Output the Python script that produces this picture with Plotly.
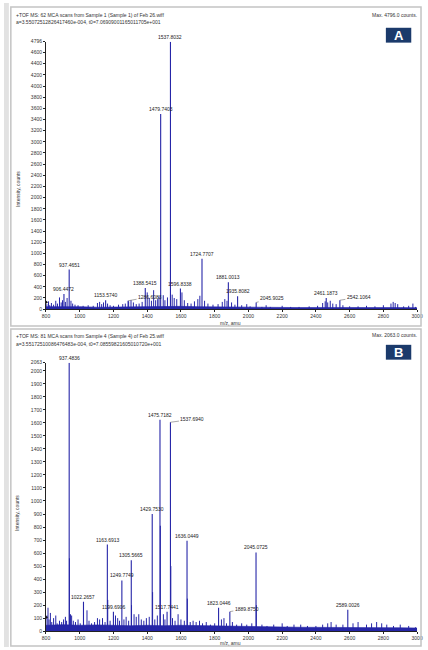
import plotly.graph_objects as go

W, H = 428, 650

# ---------------- Panel A data ----------------
A_peak_mz = [906.4472, 937.4651, 1153.5740, 1286.6083, 1388.5415, 1479.7403, 1537.8032,
             1596.8338, 1724.7707, 1881.0013, 1935.8082, 2045.9025, 2461.1873, 2542.1064]
A_peak_int = [270, 710, 160, 150, 380, 3500, 4796, 370, 905, 480, 230, 120, 200, 160]

A_minor_mz = [805, 815, 822, 832, 845, 858, 868, 880, 890, 898, 915, 925, 948, 958, 972, 990,
              1020, 1050, 1080, 1105, 1118, 1130, 1141, 1165, 1180, 1200, 1230, 1255, 1270,
              1290, 1304, 1318, 1335, 1352, 1370, 1400, 1412, 1425, 1438, 1450, 1462, 1470,
              1495, 1505, 1520, 1548, 1560, 1575, 1606, 1620, 1640, 1660, 1680, 1700, 1712,
              1740, 1760, 1790, 1820, 1845, 1860, 1873, 1900, 1920, 1960, 1990, 2010, 2080,
              2105, 2130, 2200, 2250, 2300, 2360, 2410, 2440, 2455, 2470, 2485, 2500, 2520,
              2560, 2600, 2650, 2700, 2750, 2800, 2845, 2858, 2870, 2885, 2920, 2950, 2975, 2990]
A_minor_int = [90, 140, 70, 110, 80, 150, 100, 210, 120, 160, 130, 200, 150, 100, 80, 70,
               60, 70, 60, 110, 130, 90, 120, 100, 70, 60, 80, 90, 100,
               140, 160, 120, 90, 100, 130, 300, 200, 150, 340, 160, 180, 230,
               250, 160, 210, 260, 200, 180, 300, 160, 110, 100, 140, 180, 240,
               150, 100, 80, 90, 130, 180, 150, 120, 80, 70, 90, 50, 40,
               70, 40, 60, 40, 40, 50, 60, 110, 140, 120, 150, 100, 90,
               70, 50, 50, 60, 50, 70, 100, 130, 110, 90, 50, 60, 100, 40]

A_base_mz = list(range(800, 3001, 100))
A_base_int = [45, 50, 45, 35, 40, 45, 40, 45, 50, 45, 40, 35, 30, 30, 30, 28, 30, 35, 30, 28, 32, 28, 25]

# ---------------- Panel B data ----------------
B_peak_mz = [937.4836, 1022.2657, 1163.6913, 1199.6906, 1249.7749, 1305.5665, 1429.7530,
             1475.7182, 1517.7441, 1537.6940, 1636.0449, 1823.0446, 1889.8750, 2045.0725, 2589.0026]
B_peak_int = [2063, 225, 665, 150, 390, 545, 900, 1625, 150, 1605, 695, 180, 150, 605, 165]

B_minor_mz = [806, 812, 818, 826, 834, 845, 858, 866, 880, 893, 904, 915, 922, 939, 945, 952,
              962, 975, 990, 1003, 1043, 1055, 1070, 1088, 1105, 1118, 1135, 1150, 1166, 1180,
              1212, 1225, 1236, 1262, 1275, 1290, 1307, 1322, 1335, 1350, 1365, 1380, 1395,
              1412, 1432, 1445, 1460, 1478, 1496, 1505, 1540, 1550, 1565, 1583, 1600, 1620,
              1638, 1655, 1672, 1690, 1710, 1728, 1750, 1775, 1800, 1840, 1855, 1870, 1905,
              1930, 1960, 1990, 2020, 2047, 2080, 2110, 2150, 2200, 2230, 2270, 2310, 2350,
              2400, 2440, 2470, 2490, 2520, 2560, 2620, 2650, 2700, 2730, 2760, 2790, 2820,
              2860, 2900, 2950, 2990]
B_minor_int = [120, 180, 90, 140, 70, 100, 120, 60, 80, 70, 90, 110, 80, 560, 130, 120,
               80, 70, 90, 60, 160, 80, 60, 70, 100, 90, 100, 70, 240, 80,
               120, 100, 80, 90, 110, 80, 200, 130, 110, 130, 90, 80, 100,
               110, 300, 90, 120, 810, 130, 90, 500, 100, 80, 130, 90, 80,
               250, 70, 80, 70, 80, 60, 70, 50, 60, 90, 100, 60, 70,
               50, 60, 50, 60, 200, 50, 40, 50, 60, 40, 50, 50, 40,
               40, 50, 60, 70, 50, 50, 60, 70, 50, 60, 70, 60, 50,
               40, 50, 40, 30]

B_base_mz = list(range(800, 3001, 100))
B_base_int = [45, 50, 45, 48, 45, 42, 45, 42, 45, 42, 40, 38, 36, 35, 32, 30, 30, 30, 28, 28, 28, 26, 24]

A_yticks = list(range(0, 4601, 200)) + [4796]
B_yticks = list(range(0, 2001, 100)) + [2063]
x_ticks = list(range(800, 3001, 200))

BLUE = "#2626a8"


def px(x):
    return x / W


def py(y):
    return 1 - y / H


def sticks(mz, inten):
    xs, ys = [], []
    for m, h in zip(mz, inten):
        xs += [m, m, None]
        ys += [0, h, None]
    return xs, ys


fig = go.Figure()

for (bmz, bint, mmz, mint, pmz, pint, xa, ya) in [
    (A_base_mz, A_base_int, A_minor_mz, A_minor_int, A_peak_mz, A_peak_int, "x", "y"),
    (B_base_mz, B_base_int, B_minor_mz, B_minor_int, B_peak_mz, B_peak_int, "x2", "y2"),
]:
    fig.add_trace(go.Scatter(x=bmz, y=bint, mode="lines", fill="tozeroy",
                             line=dict(color=BLUE, width=0.6), fillcolor=BLUE,
                             xaxis=xa, yaxis=ya, hoverinfo="skip"))
    xs, ys = sticks(mmz, mint)
    fig.add_trace(go.Scatter(x=xs, y=ys, mode="lines", line=dict(color=BLUE, width=1),
                             xaxis=xa, yaxis=ya, hoverinfo="skip"))
    xs, ys = sticks(pmz, pint)
    fig.add_trace(go.Scatter(x=xs, y=ys, mode="lines", line=dict(color=BLUE, width=1.1),
                             xaxis=xa, yaxis=ya, hoverinfo="skip"))

# threshold markers on y axis
fig.add_trace(go.Scatter(x=[800], y=[125], mode="markers", xaxis="x", yaxis="y",
                         marker=dict(symbol="triangle-right", size=4, color="#111"),
                         cliponaxis=False, hoverinfo="skip"))
fig.add_trace(go.Scatter(x=[800], y=[106], mode="markers", xaxis="x2", yaxis="y2",
                         marker=dict(symbol="triangle-right", size=4, color="#111"),
                         cliponaxis=False, hoverinfo="skip"))

TF = dict(family="Liberation Sans, Arial, sans-serif", size=5, color="#333")

axis_common = dict(showgrid=False, zeroline=False, showline=True, linecolor="#222",
                   linewidth=1, ticks="outside", ticklen=2, tickwidth=0.6, tickcolor="#222",
                   tickfont=TF, ticklabeloverflow="allow")

fig.update_layout(
    width=W, height=H, margin=dict(l=0, r=0, t=0, b=0),
    paper_bgcolor="white", plot_bgcolor="white", showlegend=False,
    xaxis=dict(domain=[px(43), px(423)], anchor="y", range=[800, 3000],
               tickvals=x_ticks, **axis_common),
    yaxis=dict(domain=[py(309), py(39)], anchor="x", range=[0, 4796],
               tickvals=A_yticks, ticktext=[str(v) for v in A_yticks], **axis_common),
    xaxis2=dict(domain=[px(43), px(423)], anchor="y2", range=[800, 3000],
                tickvals=x_ticks, **axis_common),
    yaxis2=dict(domain=[py(634), py(363)], anchor="x2", range=[0, 2063],
                tickvals=B_yticks, ticktext=[str(v) for v in B_yticks], **axis_common),
)

ann = []
LF = dict(family="Liberation Sans, Arial, sans-serif", size=5, color="#222")

A_shift = {1286.6083: (22, -4), 2045.9025: (16, -4), 2542.1064: (19, -3)}
B_shift = {1537.6940: (22, -3), 1889.8750: (17, -3)}

for mz, h, xa, ya, shifts in (
    [(m, h, "x", "y", A_shift) for m, h in zip(A_peak_mz, A_peak_int)] +
    [(m, h, "x2", "y2", B_shift) for m, h in zip(B_peak_mz, B_peak_int)]
):
    label = f"{mz:.4f}"
    if mz in shifts:
        dx, dy = shifts[mz]
        ann.append(dict(x=mz, y=h, xref=xa, yref=ya, text=label, showarrow=True,
                        arrowhead=0, arrowwidth=0.5, arrowcolor="#555", ax=dx, ay=dy,
                        font=LF, standoff=0))
    else:
        ann.append(dict(x=mz, y=h, xref=xa, yref=ya, text=label, showarrow=False,
                        yanchor="bottom", yshift=0, font=LF))

HF = dict(family="Liberation Sans, Arial, sans-serif", size=5, color="#333")
headers = [
    (10, 12, "+TOF MS: 62 MCA scans from Sample 1 (Sample 1) of Feb 26.wiff", "left"),
    (10, 19, "a=3.55072512826417460e-004, t0=7.06909001165011705e+001", "left"),
    (425, 12, "Max. 4796.0 counts.", "right"),
    (10, 336, "+TOF MS: 81 MCA scans from Sample 4 (Sample 4) of Feb 25.wiff", "left"),
    (10, 344, "a=3.55172510086476483e-004, t0=7.08559821605010720e+001", "left"),
    (425, 335, "Max. 2063.0 counts.", "right"),
    (232, 323, "m/z, amu", "center"),
    (232, 646, "m/z, amu", "center"),
]
for x, y, t, anc in headers:
    ann.append(dict(x=px(x), y=py(y), xref="paper", yref="paper", text=t, showarrow=False,
                    xanchor=anc, yanchor="middle", font=HF))

for x, y in [(15, 188), (14, 515)]:
    ann.append(dict(x=px(x), y=py(y), xref="paper", yref="paper", text="Intensity, counts",
                    showarrow=False, textangle=-90, xanchor="center", yanchor="middle",
                    font=dict(family="Liberation Sans, Arial, sans-serif", size=5, color="#333")))

for y0, letter in [(25, "A"), (345, "B")]:
    ann.append(dict(x=px(404), y=py(y0 + 7.5), xref="paper", yref="paper", text=f"<b>{letter}</b>",
                    showarrow=False, xanchor="center", yanchor="middle",
                    font=dict(family="Liberation Sans, Arial, sans-serif", size=13, color="white")))

fig.update_layout(annotations=ann)

shapes = []
for y0, y1 in [(4, 326), (329, 649)]:
    shapes.append(dict(type="rect", xref="paper", yref="paper", x0=px(7), x1=px(427),
                       y0=py(y1), y1=py(y0), line=dict(color="#c4c4c4", width=1.5)))
shapes.append(dict(type="rect", xref="paper", yref="paper", x0=0, x1=px(5), y0=0, y1=1,
                   line=dict(width=0), fillcolor="#e2e2e2"))
for y0 in [25, 345]:
    shapes.append(dict(type="rect", xref="paper", yref="paper", x0=px(391), x1=px(417),
                       y0=py(y0 + 15), y1=py(y0), line=dict(width=0), fillcolor="#1b3a6b"))
fig.update_layout(shapes=shapes)

fig.write_html("out.html", config={"displayModeBar": False},
               post_script="document.body.style.margin='0';document.body.style.overflow='hidden';")
